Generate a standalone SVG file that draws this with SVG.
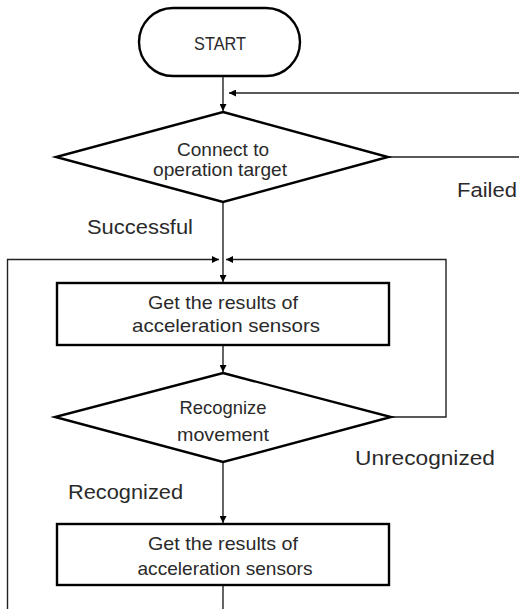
<svg xmlns="http://www.w3.org/2000/svg" width="519" height="609" viewBox="0 0 519 609">
<defs>
<marker id="ah" viewBox="0 0 10 10" refX="10" refY="5" markerWidth="7" markerHeight="7" markerUnits="userSpaceOnUse" orient="auto">
<path d="M0,0 L10,5 L0,10 z" fill="#000"/>
</marker>
<style>
.shape{fill:#fff;stroke:#000;stroke-width:2.4}
.conn{fill:none;stroke:#222;stroke-width:1.4}
.t{font-family:"Liberation Sans",Arial,sans-serif;fill:#2a2a2a;text-anchor:middle}
.n{font-size:18.5px}
.l{font-size:20.5px;text-anchor:start}
</style>
</defs>
<rect width="519" height="609" fill="#fff"/>
<g id="connectors">
<path class="conn" d="M223,76 V111" marker-end="url(#ah)"/>
<path class="conn" d="M519,93 H229" marker-end="url(#ah)"/>
<path class="conn" d="M388,157 H519"/>
<path class="conn" d="M223,202 V282" marker-end="url(#ah)"/>
<path class="conn" d="M7.5,609 V259.5 H219" marker-end="url(#ah)"/>
<path class="conn" d="M391,417 H446 V259.5 H226" marker-end="url(#ah)"/>
<path class="conn" d="M223,345 V372" marker-end="url(#ah)"/>
<path class="conn" d="M223,462 V523" marker-end="url(#ah)"/>
<path class="conn" d="M223,585 V609"/>
</g>
<g id="start">
<rect class="shape" x="139" y="8" width="161" height="68" rx="34" ry="34"/>
<text class="t n" x="220" y="50" textLength="52" lengthAdjust="spacingAndGlyphs">START</text>
</g>
<g id="connect">
<polygon class="shape" points="223,112 388,157 223,202 56,157"/>
<text class="t n" x="223" y="156" textLength="92" lengthAdjust="spacingAndGlyphs">Connect to</text>
<text class="t n" x="220" y="176" textLength="134" lengthAdjust="spacingAndGlyphs">operation target</text>
</g>
<g id="get1">
<rect class="shape" x="57" y="283" width="332" height="62"/>
<text class="t n" x="223" y="309" textLength="150" lengthAdjust="spacingAndGlyphs">Get the results of</text>
<text class="t n" x="226" y="332" textLength="188" lengthAdjust="spacingAndGlyphs">acceleration sensors</text>
</g>
<g id="recognize">
<polygon class="shape" points="223,373 391,417 223,462 55,417"/>
<text class="t n" x="223" y="414" textLength="87" lengthAdjust="spacingAndGlyphs">Recognize</text>
<text class="t n" x="223" y="441" textLength="92" lengthAdjust="spacingAndGlyphs">movement</text>
</g>
<g id="get2">
<rect class="shape" x="57" y="524" width="332" height="61"/>
<text class="t n" x="223" y="550" textLength="150" lengthAdjust="spacingAndGlyphs">Get the results of</text>
<text class="t n" x="225" y="575" textLength="175" lengthAdjust="spacingAndGlyphs">acceleration sensors</text>
</g>
<g id="labels">
<text class="t l" x="457" y="197" textLength="60" lengthAdjust="spacingAndGlyphs">Failed</text>
<text class="t l" x="87" y="234" textLength="106" lengthAdjust="spacingAndGlyphs">Successful</text>
<text class="t l" x="355" y="465" textLength="140" lengthAdjust="spacingAndGlyphs">Unrecognized</text>
<text class="t l" x="68" y="499" textLength="115" lengthAdjust="spacingAndGlyphs">Recognized</text>
</g>
</svg>
